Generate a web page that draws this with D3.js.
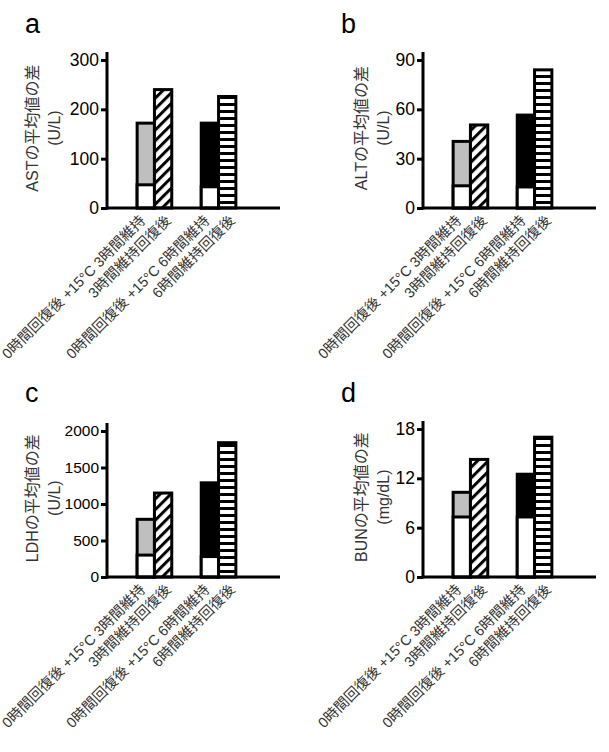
<!DOCTYPE html>
<html>
<head>
<meta charset="utf-8">
<script src="https://cdn.jsdelivr.net/npm/d3@7"></script>
<style>
  body { margin: 0; background: #fff; }
  svg { display: block; }
  text { font-family: "Liberation Sans", Arial, "Noto Sans CJK JP", sans-serif; }
</style>
</head>
<body>
<div class="chart"></div>
<script>
// bar labels (same for every panel)
var groups = ["3h", "6h"];
var barLabels = [
  ["0時間回復後 +15°C 3時間維持", "3時間維持回復後"],
  ["0時間回復後 +15°C 6時間維持", "6時間維持回復後"]
];

// AST (U/L)
var astBase = [47, 43];
var astHold = [172, 172];
var astRecov = [240, 226];
var astTicks = [0, 100, 200, 300];

// ALT (U/L)
var altBase = [13.5, 12.8];
var altHold = [40.5, 56.5];
var altRecov = [50.5, 84];
var altTicks = [0, 30, 60, 90];

// LDH (U/L)
var ldhBase = [300, 280];
var ldhHold = [790, 1290];
var ldhRecov = [1150, 1840];
var ldhTicks = [0, 500, 1000, 1500, 2000];

// BUN (mg/dL)
var bunBase = [7.3, 7.3];
var bunHold = [10.3, 12.5];
var bunRecov = [14.3, 17.0];
var bunTicks = [0, 6, 12, 18];

var panels = [
  { letter: "a", title: "ASTの平均値の差", unit: "(U/L)", base: astBase, hold: astHold, recov: astRecov, ticks: astTicks,
    x0: 107, y0: 208, h: 148, tickFont: 17.5, titleOff: -75 },
  { letter: "b", title: "ALTの平均値の差", unit: "(U/L)", base: altBase, hold: altHold, recov: altRecov, ticks: altTicks,
    x0: 423, y0: 208, h: 148, tickFont: 17.5, titleOff: -62 },
  { letter: "c", title: "LDHの平均値の差", unit: "(U/L)", base: ldhBase, hold: ldhHold, recov: ldhRecov, ticks: ldhTicks,
    x0: 107, y0: 577, h: 146, tickFont: 15.5, titleOff: -75 },
  { letter: "d", title: "BUNの平均値の差", unit: "(mg/dL)", base: bunBase, hold: bunHold, recov: bunRecov, ticks: bunTicks,
    x0: 423, y0: 577, h: 148, tickFont: 17.5, titleOff: -62 }
];

var svg = d3.select(".chart").append("svg")
  .attr("width", 609)
  .attr("height", 752);

// patterns
var defs = svg.append("defs");
var diag = defs.append("pattern")
  .attr("id", "diag")
  .attr("patternUnits", "userSpaceOnUse")
  .attr("width", 7.5).attr("height", 7.5)
  .attr("patternTransform", "rotate(45)");
diag.append("rect").attr("width", 7.5).attr("height", 7.5).attr("fill", "#fff");
diag.append("line").attr("x1", 1.5).attr("x2", 1.5).attr("y1", 0).attr("y2", 7.5)
  .attr("stroke", "#000").attr("stroke-width", 3);

var horiz = defs.append("pattern")
  .attr("id", "horiz")
  .attr("patternUnits", "userSpaceOnUse")
  .attr("width", 10).attr("height", 7);
horiz.append("rect").attr("width", 10).attr("height", 7).attr("fill", "#fff");
horiz.append("rect").attr("y", 0).attr("width", 10).attr("height", 3).attr("fill", "#000");

var plotW = 173;
var sw = 3;
var labelShift = { hold: -3, recov: 5 };

panels.forEach(function(p) {
  var g = svg.append("g").attr("transform", "translate(" + p.x0 + "," + p.y0 + ")");

  var y = d3.scaleLinear()
    .domain([0, p.ticks[p.ticks.length - 1]])
    .range([0, -p.h]);

  var x = d3.scaleBand()
    .domain(groups)
    .range([0, 159])
    .paddingInner(0.46)
    .paddingOuter(0.47);

  var sub = d3.scaleBand()
    .domain(["hold", "recov"])
    .range([0, x.bandwidth()]);

  // panel letter
  svg.append("text")
    .attr("x", p.x0 - 82)
    .attr("y", p.y0 - 175)
    .style("font-size", "27px")
    .text(p.letter);

  // y title
  var tg = g.append("g").attr("transform", "translate(" + p.titleOff + "," + (-p.h * 0.54) + ") rotate(-90)");
  tg.append("text")
    .attr("text-anchor", "middle")
    .attr("y", 0)
    .attr("dy", "0.35em")
    .style("font-size", "16px")
    .style("fill", "#333")
    .text(p.title);
  tg.append("text")
    .attr("text-anchor", "middle")
    .attr("y", 22)
    .attr("dy", "0.35em")
    .style("font-size", "16px")
    .style("fill", "#333")
    .text(p.unit);

  // bars
  groups.forEach(function(grp, i) {
    var bx = x(grp);
    var w = sub.bandwidth();
    // held bar: base (white) + rise (gray / black)
    g.append("rect")
      .attr("x", bx + sub("hold"))
      .attr("y", y(p.hold[i]))
      .attr("width", w)
      .attr("height", y(0) - y(p.hold[i]))
      .attr("fill", i === 0 ? "#bfbfbf" : "#000")
      .attr("stroke", "#000").attr("stroke-width", sw);
    g.append("rect")
      .attr("x", bx + sub("hold"))
      .attr("y", y(p.base[i]))
      .attr("width", w)
      .attr("height", y(0) - y(p.base[i]))
      .attr("fill", "#fff")
      .attr("stroke", "#000").attr("stroke-width", sw);
    // recovered bar
    g.append("rect")
      .attr("x", bx + sub("recov"))
      .attr("y", y(p.recov[i]))
      .attr("width", w)
      .attr("height", y(0) - y(p.recov[i]))
      .attr("fill", i === 0 ? "url(#diag)" : "url(#horiz)")
      .attr("stroke", "#000").attr("stroke-width", sw);

    // x labels
    ["hold", "recov"].forEach(function(k, j) {
      g.append("text")
        .attr("transform", "translate(" + (bx + sub(k) + w / 2 + labelShift[k]) + "," + 10 + ") rotate(-45)")
        .attr("text-anchor", "end")
        .attr("dy", "0.35em")
        .style("font-size", "14.5px")
        .style("fill", "#333")
        .text(barLabels[i][j]);
    });
  });

  // y axis
  var gY = g.append("g")
    .call(d3.axisLeft(y).tickValues(p.ticks).tickSize(6).tickPadding(2).tickFormat(d3.format("d")));
  gY.select(".domain").remove();
  gY.selectAll(".tick line").attr("stroke-width", sw);
  gY.selectAll(".tick text")
    .style("font-size", p.tickFont + "px")
    .style("font-family", '"Liberation Sans", Arial, sans-serif')
    .attr("fill", "#000");

  // axis lines
  g.append("line")
    .attr("x1", 0).attr("x2", 0)
    .attr("y1", 1.5).attr("y2", -p.h - 8)
    .attr("stroke", "#000").attr("stroke-width", sw);
  g.append("line")
    .attr("x1", 0).attr("x2", plotW)
    .attr("y1", 0).attr("y2", 0)
    .attr("stroke", "#000").attr("stroke-width", sw);
});
</script>
</body>
</html>
